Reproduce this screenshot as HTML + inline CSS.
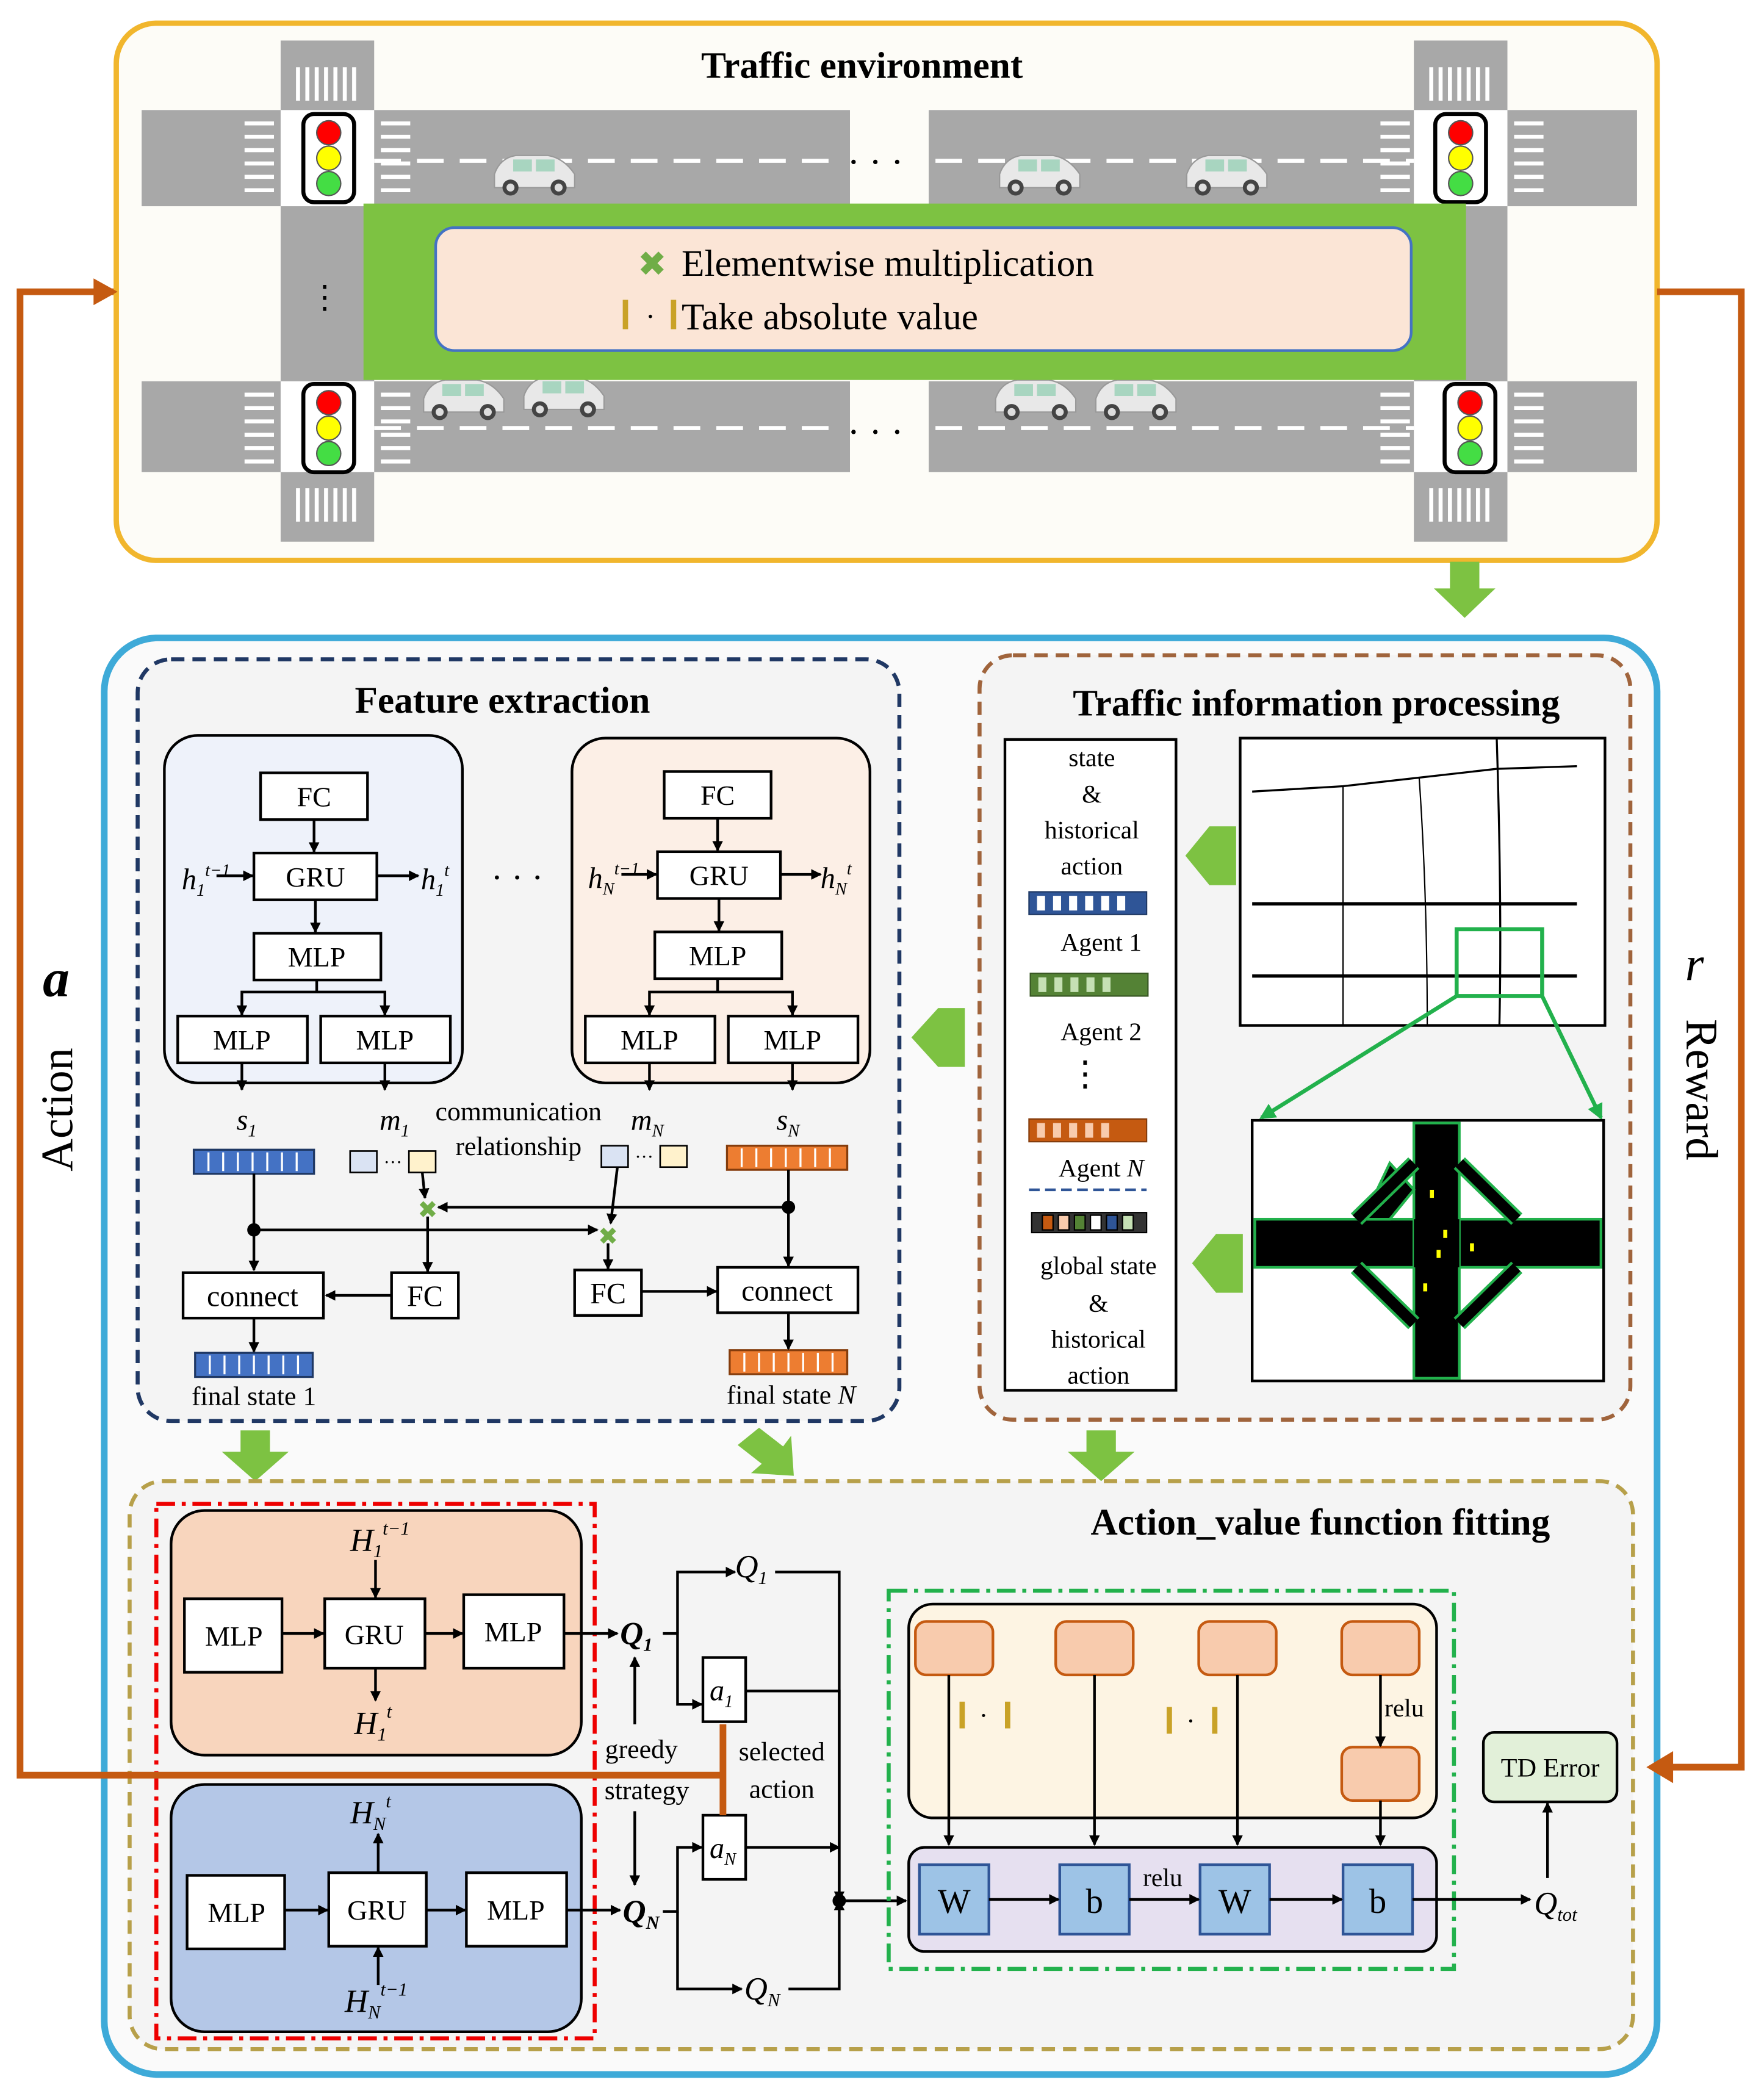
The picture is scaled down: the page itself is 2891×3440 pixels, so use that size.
<!DOCTYPE html>
<html><head><meta charset="utf-8"><style>
html,body{margin:0;padding:0;background:#fff;}
svg{display:block;}
text{font-family:"Liberation Serif",serif;fill:#000;}
</style></head><body>
<svg width="2891" height="3440" viewBox="0 0 1320 1570" xmlns="http://www.w3.org/2000/svg">
<defs>
<marker id="ar" markerWidth="8" markerHeight="8" refX="7" refY="4" orient="auto" markerUnits="userSpaceOnUse"><path d="M0,0 L8,4 L0,8 z" fill="#000"/></marker>
<marker id="arg" markerWidth="12" markerHeight="12" refX="10" refY="6" orient="auto" markerUnits="userSpaceOnUse"><path d="M0,0 L12,6 L0,12 z" fill="#22b14c"/></marker>
<g id="car"><path d="M0,16 Q4,4 16,2 L40,2 Q52,4 60,16 L60,26 L0,26 z" fill="#e8e8e8" stroke="#999"/><rect x="14" y="5" width="14" height="9" fill="#a8d5c0"/><rect x="31" y="5" width="14" height="9" fill="#a8d5c0"/><circle cx="12" cy="26" r="6" fill="#444"/><circle cx="48" cy="26" r="6" fill="#444"/><circle cx="12" cy="26" r="3" fill="#ddd"/><circle cx="48" cy="26" r="3" fill="#ddd"/></g>
<g id="light"><rect x="-19" y="-33" width="38" height="66" rx="8" fill="#fff" stroke="#000" stroke-width="3"/><circle cy="-19" r="9" fill="#f00" stroke="#555"/><circle cy="0" r="9" fill="#ff0" stroke="#555"/><circle cy="19" r="9" fill="#4d4" stroke="#555"/></g>
</defs>

<!-- TOP: traffic environment -->
<rect x="87" y="17" width="1153" height="402" rx="30" fill="#fdfcf7" stroke="#f1b62d" stroke-width="4"/>
<g fill="#a8a8a8">
<rect x="106" y="82" width="530" height="72"/><rect x="695" y="82" width="530" height="72"/>
<rect x="106" y="285" width="530" height="68"/><rect x="695" y="285" width="530" height="68"/>
<rect x="210" y="30" width="70" height="375"/><rect x="1058" y="30" width="70" height="375"/>
</g>
<path d="M636,82 L620,118 L636,154" fill="#a8a8a8"/><path d="M695,82 L712,118 L695,154" fill="#a8a8a8"/>
<path d="M636,285 L620,320 L636,353" fill="#a8a8a8"/><path d="M695,285 L712,320 L695,353" fill="#a8a8a8"/>
<g stroke="#fff" stroke-width="3" stroke-dasharray="20,12">
<line x1="280" y1="120" x2="630" y2="120"/><line x1="700" y1="120" x2="1058" y2="120"/>
<line x1="280" y1="320" x2="630" y2="320"/><line x1="700" y1="320" x2="1058" y2="320"/>
</g>
<g fill="#fff">
<rect x="210" y="82" width="70" height="72"/><rect x="1058" y="82" width="70" height="72"/>
<rect x="210" y="285" width="70" height="68"/><rect x="1058" y="285" width="70" height="68"/>
</g>
<g stroke="#fff" stroke-width="3">
<path d="M223,50 v25 M230,50 v25 M237,50 v25 M244,50 v25 M251,50 v25 M258,50 v25 M265,50 v25"/>
<path d="M1071,50 v25 M1078,50 v25 M1085,50 v25 M1092,50 v25 M1099,50 v25 M1106,50 v25 M1113,50 v25"/>
<path d="M223,365 v25 M230,365 v25 M237,365 v25 M244,365 v25 M251,365 v25 M258,365 v25 M265,365 v25"/>
<path d="M1071,365 v25 M1078,365 v25 M1085,365 v25 M1092,365 v25 M1099,365 v25 M1106,365 v25 M1113,365 v25"/>
<path d="M183,92 h22 M183,102 h22 M183,112 h22 M183,122 h22 M183,132 h22 M183,142 h22"/>
<path d="M285,92 h22 M285,102 h22 M285,112 h22 M285,122 h22 M285,132 h22 M285,142 h22"/>
<path d="M1033,92 h22 M1033,102 h22 M1033,112 h22 M1033,122 h22 M1033,132 h22 M1033,142 h22"/>
<path d="M1133,92 h22 M1133,102 h22 M1133,112 h22 M1133,122 h22 M1133,132 h22 M1133,142 h22"/>
<path d="M183,295 h22 M183,305 h22 M183,315 h22 M183,325 h22 M183,335 h22 M183,345 h22"/>
<path d="M285,295 h22 M285,305 h22 M285,315 h22 M285,325 h22 M285,335 h22 M285,345 h22"/>
<path d="M1033,295 h22 M1033,305 h22 M1033,315 h22 M1033,325 h22 M1033,335 h22 M1033,345 h22"/>
<path d="M1133,295 h22 M1133,305 h22 M1133,315 h22 M1133,325 h22 M1133,335 h22 M1133,345 h22"/>
</g>
<use href="#light" x="246" y="118"/><use href="#light" x="1093" y="118"/>
<use href="#light" x="246" y="320"/><use href="#light" x="1100" y="320"/>
<use href="#car" x="370" y="114"/><use href="#car" x="748" y="114"/><use href="#car" x="888" y="114"/>
<use href="#car" x="317" y="282"/><use href="#car" x="392" y="280"/><use href="#car" x="745" y="282"/><use href="#car" x="820" y="282"/>
<text x="655" y="130" font-size="28" text-anchor="middle">· · ·</text>
<text x="655" y="332" font-size="28" text-anchor="middle">· · ·</text>
<text x="243" y="230" font-size="24" text-anchor="middle">⋮</text>
<rect x="272" y="152" width="825" height="132" fill="#7dc242"/>
<rect x="326" y="170" width="730" height="92" rx="14" fill="#fbe5d6" stroke="#4472c4" stroke-width="2"/>
<text x="645" y="58" font-size="28" font-weight="bold" text-anchor="middle">Traffic  environment</text>
<text x="488" y="206" font-size="26" style="fill:#70ad47" text-anchor="middle">✖</text>
<text x="510" y="206" font-size="28">Elementwise multiplication</text>
<rect x="466" y="224" width="4" height="22" fill="#c9a227"/><rect x="502" y="224" width="4" height="22" fill="#c9a227"/>
<text x="483" y="244" font-size="22">·</text>
<text x="510" y="246" font-size="28">Take absolute value</text>

<text x="42" y="745" font-size="40" font-weight="bold" font-style="italic" text-anchor="middle">a</text>
<text transform="translate(54,830) rotate(-90)" font-size="34" text-anchor="middle">Action</text>
<text x="1268" y="733" font-size="36" font-style="italic" text-anchor="middle">r</text>
<text transform="translate(1262,815) rotate(90)" font-size="34" text-anchor="middle">Reward</text>

<!-- big blue box -->
<rect x="78" y="477" width="1162" height="1075" rx="40" fill="#fafafa" stroke="#3eaad8" stroke-width="5"/>
<path d="M1085,420 h22 v20 h12 l-23,22 l-23,-22 h12 z" fill="#7dc242"/>

<!-- Feature extraction -->
<rect x="103" y="493" width="570" height="570" rx="25" fill="#f4f4f4" stroke="#203864" stroke-width="3" stroke-dasharray="10,6"/>
<text x="376" y="533" font-size="28" font-weight="bold" text-anchor="middle">Feature extraction</text>
<rect x="123" y="550" width="223" height="260" rx="25" fill="#eef2fa" stroke="#000" stroke-width="2"/>
<rect x="428" y="552" width="223" height="258" rx="25" fill="#fcefe6" stroke="#000" stroke-width="2"/>
<g fill="#fff" stroke="#000" stroke-width="2">
<rect x="195" y="578" width="80" height="35"/><rect x="190" y="638" width="92" height="35"/><rect x="190" y="698" width="95" height="35"/>
<rect x="133" y="760" width="97" height="35"/><rect x="240" y="760" width="97" height="35"/>
<rect x="497" y="577" width="80" height="35"/><rect x="492" y="637" width="92" height="35"/><rect x="490" y="697" width="95" height="35"/>
<rect x="438" y="760" width="97" height="35"/><rect x="545" y="760" width="97" height="35"/>
</g>
<g font-size="21" text-anchor="middle">
<text x="235" y="603">FC</text><text x="236" y="663">GRU</text><text x="237" y="723">MLP</text>
<text x="181" y="785">MLP</text><text x="288" y="785">MLP</text>
<text x="537" y="602">FC</text><text x="538" y="662">GRU</text><text x="537" y="722">MLP</text>
<text x="486" y="785">MLP</text><text x="593" y="785">MLP</text>
</g>
<g stroke="#000" stroke-width="2" fill="none" marker-end="url(#ar)">
<line x1="235" y1="613" x2="235" y2="637"/><line x1="236" y1="673" x2="236" y2="697"/>
<path d="M237,733 V742 H181 V759"/><path d="M237,742 H288 V759"/>
<line x1="537" y1="612" x2="537" y2="636"/><line x1="538" y1="672" x2="538" y2="696"/>
<path d="M537,732 V742 H486 V759"/><path d="M537,742 H593 V759"/>
<line x1="162" y1="655" x2="189" y2="655"/><line x1="282" y1="655" x2="313" y2="655"/>
<line x1="465" y1="654" x2="491" y2="654"/><line x1="584" y1="654" x2="614" y2="654"/>
<line x1="181" y1="795" x2="181" y2="815"/><line x1="288" y1="795" x2="288" y2="815"/>
<line x1="486" y1="795" x2="486" y2="815"/><line x1="593" y1="795" x2="593" y2="815"/>
</g>
<g font-size="22" font-style="italic">
<text x="136" y="665">h<tspan font-size="13" dy="5">1</tspan><tspan font-size="13" dy="-15">t−1</tspan></text>
<text x="315" y="665">h<tspan font-size="13" dy="5">1</tspan><tspan font-size="13" dy="-15">t</tspan></text>
<text x="440" y="664">h<tspan font-size="13" dy="5">N</tspan><tspan font-size="13" dy="-15">t−1</tspan></text>
<text x="614" y="664">h<tspan font-size="13" dy="5">N</tspan><tspan font-size="13" dy="-15">t</tspan></text>
<text x="177" y="845">s<tspan font-size="13" dy="5">1</tspan></text>
<text x="284" y="845">m<tspan font-size="13" dy="5">1</tspan></text>
<text x="472" y="845">m<tspan font-size="13" dy="5">N</tspan></text>
<text x="581" y="845">s<tspan font-size="13" dy="5">N</tspan></text>
</g>
<text x="387" y="665" font-size="26" text-anchor="middle">· · ·</text>
<text x="388" y="838" font-size="20" text-anchor="middle">communication</text>
<text x="388" y="864" font-size="20" text-anchor="middle">relationship</text>
<g stroke="#1f3864" stroke-width="1.5">
<rect x="145" y="860" width="90" height="18" fill="#4472c4"/>
<rect x="146" y="1012" width="88" height="18" fill="#4472c4"/>
</g>
<g stroke="#843c0c" stroke-width="1.5">
<rect x="544" y="857" width="90" height="18" fill="#ed7d31"/>
<rect x="546" y="1010" width="88" height="18" fill="#ed7d31"/>
</g>
<g stroke="#fff" stroke-width="1.5">
<path d="M156,862 v14 M167,862 v14 M178,862 v14 M189,862 v14 M200,862 v14 M211,862 v14 M222,862 v14"/>
<path d="M157,1014 v14 M168,1014 v14 M179,1014 v14 M190,1014 v14 M201,1014 v14 M212,1014 v14 M223,1014 v14"/>
<path d="M555,859 v14 M566,859 v14 M577,859 v14 M588,859 v14 M599,859 v14 M610,859 v14 M621,859 v14"/>
<path d="M557,1012 v14 M568,1012 v14 M579,1012 v14 M590,1012 v14 M601,1012 v14 M612,1012 v14 M623,1012 v14"/>
</g>
<g stroke="#000" stroke-width="1.2">
<rect x="262" y="861" width="20" height="16" fill="#dae3f3"/><rect x="306" y="861" width="20" height="16" fill="#fff2cc"/>
<rect x="450" y="857" width="20" height="16" fill="#dae3f3"/><rect x="494" y="857" width="20" height="16" fill="#fff2cc"/>
</g>
<text x="294" y="874" font-size="14" text-anchor="middle">···</text>
<text x="482" y="870" font-size="14" text-anchor="middle">···</text>
<g stroke="#000" stroke-width="2" fill="none">
<line x1="190" y1="878" x2="190" y2="950" marker-end="url(#ar)"/>
<line x1="190" y1="920" x2="447" y2="920" marker-end="url(#ar)"/>
<line x1="590" y1="875" x2="590" y2="947" marker-end="url(#ar)"/>
<line x1="590" y1="903" x2="328" y2="903" marker-end="url(#ar)"/>
<line x1="316" y1="877" x2="318" y2="896" marker-end="url(#ar)"/>
<line x1="462" y1="873" x2="457" y2="915" marker-end="url(#ar)"/>
<line x1="320" y1="910" x2="320" y2="951" marker-end="url(#ar)"/>
<line x1="455" y1="930" x2="455" y2="949" marker-end="url(#ar)"/>
<line x1="293" y1="969" x2="244" y2="969" marker-end="url(#ar)"/>
<line x1="480" y1="966" x2="536" y2="966" marker-end="url(#ar)"/>
<line x1="190" y1="986" x2="190" y2="1011" marker-end="url(#ar)"/>
<line x1="590" y1="983" x2="590" y2="1009" marker-end="url(#ar)"/>
</g>
<circle cx="190" cy="920" r="5" fill="#000"/><circle cx="590" cy="903" r="5" fill="#000"/>
<text x="320" y="911" font-size="18" text-anchor="middle" style="fill:#70ad47">✖</text>
<text x="455" y="931" font-size="18" text-anchor="middle" style="fill:#70ad47">✖</text>
<g fill="#fff" stroke="#000" stroke-width="2">
<rect x="137" y="952" width="105" height="34"/><rect x="293" y="952" width="50" height="34"/>
<rect x="430" y="950" width="50" height="34"/><rect x="537" y="948" width="105" height="34"/>
</g>
<g font-size="22" text-anchor="middle">
<text x="189" y="977">connect</text><text x="318" y="977">FC</text>
<text x="455" y="975">FC</text><text x="589" y="973">connect</text>
</g>
<text x="190" y="1051" font-size="20" text-anchor="middle">final state 1</text>
<text x="592" y="1050" font-size="20" text-anchor="middle">final state <tspan font-style="italic">N</tspan></text>

<!-- Traffic information processing -->
<rect x="733" y="490" width="487" height="572" rx="25" fill="#f4f4f4" stroke="#a0643c" stroke-width="3" stroke-dasharray="10,6"/>
<text x="985" y="535" font-size="28" font-weight="bold" text-anchor="middle">Traffic  information processing</text>
<rect x="752" y="553" width="128" height="487" fill="#fff" stroke="#000" stroke-width="2"/>
<g font-size="19" text-anchor="middle">
<text x="817" y="573">state</text><text x="817" y="600">&amp;</text><text x="817" y="627">historical</text><text x="817" y="654">action</text>
<text x="824" y="711">Agent 1</text><text x="824" y="778">Agent 2</text>
<text x="824" y="880">Agent <tspan font-style="italic">N</tspan></text>
<text x="822" y="953">global state</text><text x="822" y="981">&amp;</text><text x="822" y="1008">historical</text><text x="822" y="1035">action</text>
</g>
<rect x="770" y="667" width="88" height="17" fill="#2f5597" stroke="#1f3864"/>
<rect x="771" y="728" width="88" height="17" fill="#548235" stroke="#385723"/>
<rect x="770" y="837" width="88" height="17" fill="#c55a11" stroke="#843c0c"/>
<g fill="#fff"><rect x="776" y="670" width="6" height="11"/><rect x="788" y="670" width="6" height="11"/><rect x="800" y="670" width="6" height="11"/><rect x="812" y="670" width="6" height="11"/><rect x="824" y="670" width="6" height="11"/><rect x="836" y="670" width="6" height="11"/>
<rect x="777" y="731" width="6" height="11" fill="#c5e0b4"/><rect x="789" y="731" width="6" height="11" fill="#c5e0b4"/><rect x="801" y="731" width="6" height="11" fill="#c5e0b4"/><rect x="813" y="731" width="6" height="11" fill="#c5e0b4"/><rect x="825" y="731" width="6" height="11" fill="#c5e0b4"/>
<rect x="776" y="840" width="6" height="11" fill="#f8cbad"/><rect x="788" y="840" width="6" height="11" fill="#f8cbad"/><rect x="800" y="840" width="6" height="11" fill="#f8cbad"/><rect x="812" y="840" width="6" height="11" fill="#f8cbad"/><rect x="824" y="840" width="6" height="11" fill="#f8cbad"/></g>
<text x="812" y="812" font-size="26" text-anchor="middle">⋮</text>
<line x1="770" y1="890" x2="858" y2="890" stroke="#2f5597" stroke-width="2" stroke-dasharray="8,4"/>
<g stroke="#000"><rect x="772" y="907" width="86" height="15" fill="#333"/>
<rect x="780" y="909" width="8" height="11" fill="#c55a11"/><rect x="792" y="909" width="8" height="11" fill="#f8cbad"/><rect x="804" y="909" width="8" height="11" fill="#548235"/><rect x="816" y="909" width="8" height="11" fill="#fff"/><rect x="828" y="909" width="8" height="11" fill="#2f5597"/><rect x="840" y="909" width="8" height="11" fill="#c5e0b4"/></g>
<rect x="928" y="552" width="273" height="215" fill="#fff" stroke="#000" stroke-width="2"/>
<g stroke="#000" fill="none">
<path d="M937,592 L1005,588 L1120,575 L1180,573" stroke-width="1.5"/>
<path d="M937,676 H1180" stroke-width="2.5"/><path d="M937,730 H1180" stroke-width="2.5"/>
<path d="M1005,588 V767" stroke-width="1"/><path d="M1062,582 Q1068,670 1068,767" stroke-width="1"/><path d="M1120,552 Q1124,680 1122,767" stroke-width="1.5"/>
</g>
<rect x="1090" y="695" width="64" height="50" fill="none" stroke="#22b14c" stroke-width="3"/>
<line x1="1090" y1="745" x2="944" y2="836" stroke="#22b14c" stroke-width="3" marker-end="url(#arg)"/>
<line x1="1154" y1="745" x2="1198" y2="836" stroke="#22b14c" stroke-width="3" marker-end="url(#arg)"/>
<rect x="937" y="838" width="263" height="195" fill="#fff" stroke="#000" stroke-width="2"/>
<g fill="#000" stroke="#22b14c" stroke-width="2">
<rect x="939" y="912" width="259" height="36"/>
<rect x="1058" y="840" width="34" height="191"/>
<path d="M1040,870 L1058,890 L1040,912 L1020,912 Z"/>
</g>
<path d="M1015,912 L1058,870 M1092,870 L1135,912 M1015,948 L1058,990 M1092,990 L1135,948" stroke="#22b14c" stroke-width="12"/>
<path d="M1015,912 L1058,870 M1092,870 L1135,912 M1015,948 L1058,990 M1092,990 L1135,948" stroke="#000" stroke-width="8"/>
<rect x="1058" y="912" width="34" height="36" fill="#000"/>
<g fill="#ff0"><rect x="1070" y="890" width="3" height="6"/><rect x="1080" y="920" width="3" height="6"/><rect x="1100" y="930" width="3" height="6"/><rect x="1065" y="960" width="3" height="6"/><rect x="1075" y="935" width="3" height="6"/></g>
<path d="M925,630 v-12 h-20 l-18,22 l18,22 h20 v-12 z" fill="#7dc242"/>
<path d="M930,935 v-12 h-20 l-18,22 l18,22 h20 v-12 z" fill="#7dc242"/>
<path d="M722,766 v-12 h-20 l-20,22 l20,22 h20 v-12 z" fill="#7dc242"/>
<path d="M180,1070 h22 v16 h14 l-25,22 l-25,-22 h14 z" fill="#7dc242"/>
<path d="M813,1070 h22 v16 h14 l-25,22 l-25,-22 h14 z" fill="#7dc242"/>
<path d="M568,1068 l18,14 l6,-8 l2,30 l-32,-2 l8,-7 l-18,-14 z" fill="#7dc242"/>

<!-- Action value function fitting -->
<rect x="97" y="1108" width="1125" height="425" rx="25" fill="#f4f4f4" stroke="#b7a04a" stroke-width="3" stroke-dasharray="10,6"/>
<text x="988" y="1148" font-size="28" font-weight="bold" text-anchor="middle">Action_value function fitting</text>
<rect x="117" y="1125" width="328" height="400" fill="none" stroke="#e00" stroke-width="3" stroke-dasharray="14,5,3,5"/>
<rect x="128" y="1130" width="307" height="183" rx="25" fill="#f8d5bd" stroke="#000" stroke-width="2"/>
<rect x="128" y="1335" width="307" height="185" rx="25" fill="#b4c7e7" stroke="#000" stroke-width="2"/>
<g fill="#fff" stroke="#000" stroke-width="2">
<rect x="138" y="1196" width="73" height="55"/><rect x="243" y="1196" width="75" height="52"/><rect x="347" y="1193" width="75" height="55"/>
<rect x="140" y="1403" width="73" height="55"/><rect x="246" y="1401" width="73" height="55"/><rect x="349" y="1401" width="75" height="55"/>
</g>
<g font-size="21" text-anchor="middle">
<text x="175" y="1231">MLP</text><text x="280" y="1230">GRU</text><text x="384" y="1228">MLP</text>
<text x="177" y="1438">MLP</text><text x="282" y="1436">GRU</text><text x="386" y="1436">MLP</text>
</g>
<g stroke="#000" stroke-width="2" fill="none" marker-end="url(#ar)">
<line x1="211" y1="1222" x2="242" y2="1222"/><line x1="318" y1="1222" x2="346" y2="1222"/><line x1="422" y1="1222" x2="462" y2="1222"/>
<line x1="281" y1="1167" x2="281" y2="1195"/><line x1="281" y1="1248" x2="281" y2="1272"/>
<line x1="213" y1="1429" x2="245" y2="1429"/><line x1="319" y1="1429" x2="348" y2="1429"/><line x1="424" y1="1429" x2="464" y2="1429"/>
<line x1="283" y1="1401" x2="283" y2="1372"/><line x1="283" y1="1485" x2="283" y2="1457"/>
<line x1="475" y1="1290" x2="475" y2="1240"/><line x1="475" y1="1355" x2="475" y2="1410"/>
<path d="M496,1222 H507 V1275 H525"/><path d="M507,1222 V1176 H550"/>
<path d="M496,1430 H507 V1382 H525"/><path d="M507,1430 V1488 H555"/>
<path d="M558,1265 H628 V1422 H678"/><path d="M580,1176 H628 V1422"/><path d="M558,1382 H628"/><path d="M590,1488 H628 V1422"/>
</g>
<circle cx="628" cy="1422" r="5" fill="#000"/>
<g font-size="24" font-style="italic">
<text x="262" y="1160">H<tspan font-size="14" dy="5">1</tspan><tspan font-size="14" dy="-17">t−1</tspan></text>
<text x="265" y="1297">H<tspan font-size="14" dy="5">1</tspan><tspan font-size="14" dy="-17">t</tspan></text>
<text x="262" y="1364">H<tspan font-size="14" dy="5">N</tspan><tspan font-size="14" dy="-17">t</tspan></text>
<text x="258" y="1505">H<tspan font-size="14" dy="5">N</tspan><tspan font-size="14" dy="-17">t−1</tspan></text>
<text x="464" y="1230" font-weight="bold">Q<tspan font-size="14" dy="5">1</tspan></text>
<text x="466" y="1438" font-weight="bold">Q<tspan font-size="14" dy="5">N</tspan></text>
<text x="550" y="1180">Q<tspan font-size="14" dy="5">1</tspan></text>
<text x="557" y="1496">Q<tspan font-size="14" dy="5">N</tspan></text>
<text x="1148" y="1432">Q<tspan font-size="14" dy="5">tot</tspan></text>
</g>
<g fill="#fff" stroke="#000" stroke-width="2"><rect x="526" y="1240" width="32" height="48"/><rect x="526" y="1358" width="32" height="48"/></g>
<text x="531" y="1272" font-size="22" font-style="italic">a<tspan font-size="13" dy="5">1</tspan></text>
<text x="531" y="1390" font-size="22" font-style="italic">a<tspan font-size="13" dy="5">N</tspan></text>
<g font-size="20" text-anchor="middle">
<text x="480" y="1315">greedy</text><text x="484" y="1346">strategy</text>
<text x="585" y="1317">selected</text><text x="585" y="1345">action</text>
</g>
<rect x="665" y="1190" width="423" height="283" fill="none" stroke="#22b14c" stroke-width="3" stroke-dasharray="14,5,3,5"/>
<rect x="680" y="1200" width="395" height="160" rx="18" fill="#fdf4e3" stroke="#000" stroke-width="2"/>
<g fill="#f8cbad" stroke="#c55a11" stroke-width="2">
<rect x="685" y="1213" width="58" height="40" rx="8"/><rect x="790" y="1213" width="58" height="40" rx="8"/>
<rect x="897" y="1213" width="58" height="40" rx="8"/><rect x="1004" y="1213" width="58" height="40" rx="8"/>
<rect x="1004" y="1307" width="58" height="40" rx="8"/>
</g>
<g fill="#c9a227"><rect x="718" y="1273" width="4" height="20"/><rect x="752" y="1273" width="4" height="20"/><rect x="873" y="1277" width="4" height="20"/><rect x="907" y="1277" width="4" height="20"/></g>
<text x="736" y="1290" font-size="20" text-anchor="middle">·</text>
<text x="891" y="1294" font-size="20" text-anchor="middle">·</text>
<text x="1036" y="1284" font-size="19">relu</text>
<rect x="680" y="1382" width="395" height="78" rx="12" fill="#e6e0f0" stroke="#000" stroke-width="2"/>
<g fill="#9dc3e6" stroke="#2f5597" stroke-width="2">
<rect x="688" y="1395" width="52" height="52"/><rect x="793" y="1395" width="52" height="52"/><rect x="898" y="1395" width="52" height="52"/><rect x="1005" y="1395" width="52" height="52"/>
</g>
<g font-size="26" text-anchor="middle"><text x="714" y="1431">W</text><text x="819" y="1431">b</text><text x="924" y="1431">W</text><text x="1031" y="1431">b</text></g>
<text x="870" y="1411" font-size="19" text-anchor="middle">relu</text>
<g stroke="#000" stroke-width="2" fill="none" marker-end="url(#ar)">
<line x1="710" y1="1253" x2="710" y2="1380"/><line x1="819" y1="1253" x2="819" y2="1380"/><line x1="926" y1="1253" x2="926" y2="1380"/>
<line x1="1033" y1="1253" x2="1033" y2="1306"/><line x1="1033" y1="1347" x2="1033" y2="1380"/>
<line x1="740" y1="1421" x2="792" y2="1421"/><line x1="845" y1="1421" x2="897" y2="1421"/><line x1="950" y1="1421" x2="1004" y2="1421"/>
<line x1="1057" y1="1421" x2="1145" y2="1421"/><line x1="1158" y1="1405" x2="1158" y2="1349"/>
</g>
<rect x="1110" y="1296" width="100" height="52" rx="8" fill="#e2f0d9" stroke="#000" stroke-width="2"/>
<text x="1160" y="1329" font-size="20" text-anchor="middle">TD Error</text>

<!-- orange loop (drawn on top) -->
<path d="M85,218 H15 V1328 H541" fill="none" stroke="#c55a11" stroke-width="5"/>
<path d="M70,208 L88,218 L70,228 z" fill="#c55a11"/>
<path d="M1240,218 H1303 V1322 H1250" fill="none" stroke="#c55a11" stroke-width="5"/>
<path d="M1252,1310 L1232,1322 L1252,1334 z" fill="#c55a11"/>
<line x1="541" y1="1290" x2="541" y2="1358" stroke="#c55a11" stroke-width="5"/>
</svg>
</body></html>
